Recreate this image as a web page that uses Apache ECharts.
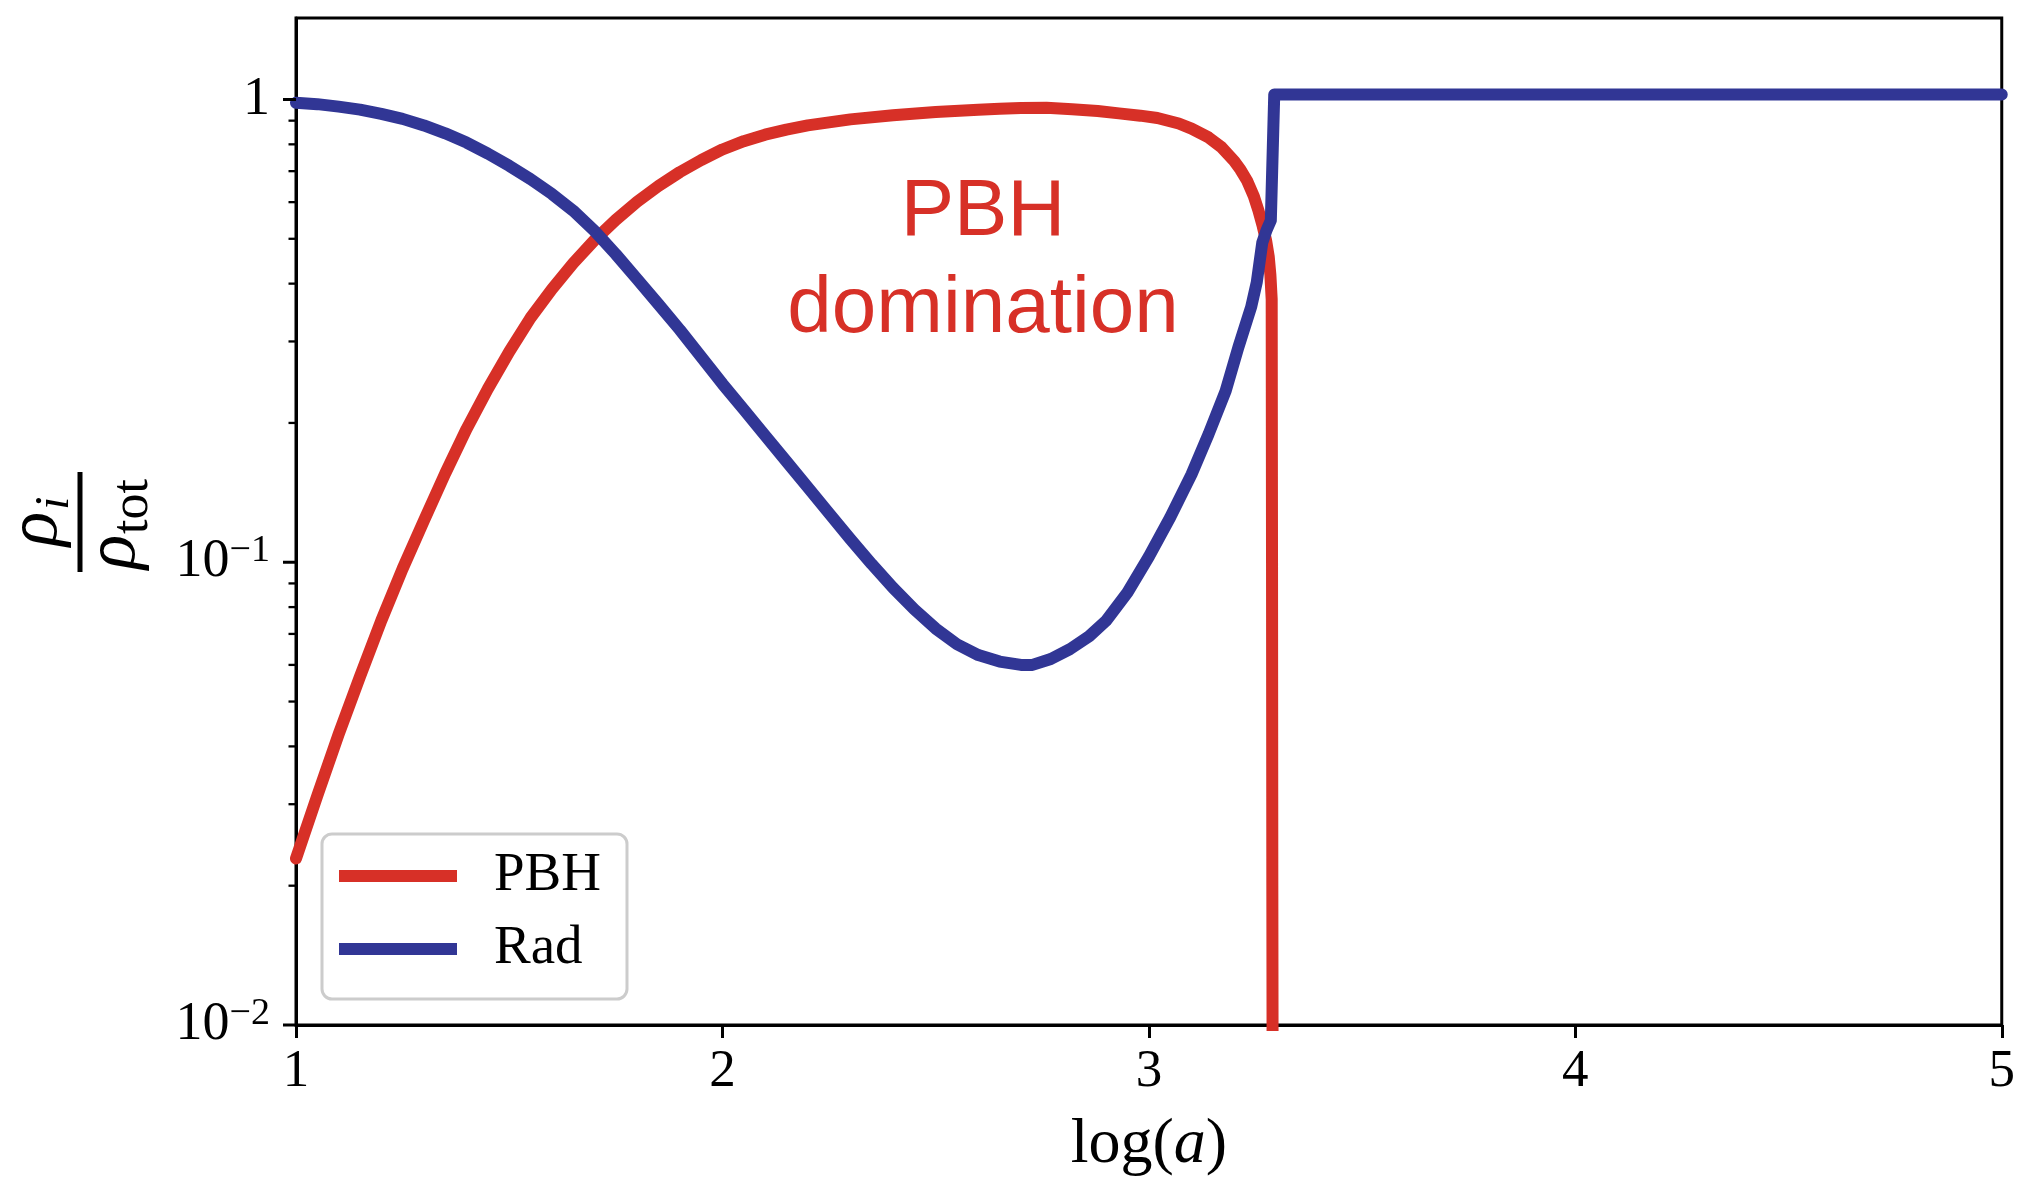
<!DOCTYPE html>
<html>
<head>
<meta charset="utf-8">
<script src="https://cdn.jsdelivr.net/npm/echarts@6/dist/echarts.min.js"></script>
<style>
html,body{margin:0;padding:0;background:#ffffff;}
#chart{width:2018px;height:1183px;}
</style>
</head>
<body>
<div id="chart"></div>
<script>
// ---- data ----
const seriesNames = ['PBH', 'Rad'];

const pbhLogA = [1.00, 1.05, 1.10, 1.15, 1.20, 1.25, 1.30, 1.35, 1.40, 1.45, 1.50, 1.55, 1.60, 1.65, 1.70, 1.75,
  1.80, 1.85, 1.90, 1.95, 2.00, 2.05, 2.10, 2.15, 2.20, 2.30, 2.40, 2.50, 2.60, 2.65, 2.70, 2.76, 2.82, 2.88,
  2.93, 2.98, 3.02, 3.07, 3.10, 3.14, 3.17, 3.20, 3.215, 3.23, 3.246, 3.257, 3.267, 3.275, 3.281, 3.285, 3.288,
  3.2888, 3.2895, 3.2905];
const pbhFrac = [0.0229, 0.0313, 0.0425, 0.0566, 0.0748, 0.0968, 0.1230, 0.1556, 0.1941, 0.2371, 0.2851, 0.3373,
  0.3890, 0.4426, 0.4966, 0.5495, 0.6012, 0.6501, 0.6966, 0.7396, 0.7798, 0.8128, 0.8395, 0.8610, 0.8790, 0.9057,
  0.9247, 0.9397, 0.9506, 0.9550, 0.9590, 0.9594, 0.9528, 0.9441, 0.9333, 0.9226, 0.9120, 0.8872, 0.8650, 0.8279,
  0.7889, 0.7362, 0.7047, 0.6683, 0.6180, 0.5754, 0.5321, 0.4955, 0.4581, 0.4169, 0.3698, 0.100, 0.020, 0.005];

const radLogA = [1.00, 1.05, 1.10, 1.15, 1.20, 1.25, 1.30, 1.35, 1.40, 1.45, 1.50, 1.55, 1.60, 1.65, 1.70, 1.75,
  1.80, 1.85, 1.90, 1.95, 2.00, 2.05, 2.10, 2.15, 2.20, 2.25, 2.30, 2.35, 2.40, 2.45, 2.50, 2.55, 2.60, 2.65,
  2.70, 2.727, 2.77, 2.815, 2.86, 2.90, 2.95, 3.00, 3.05, 3.10, 3.14, 3.18, 3.21, 3.24, 3.253, 3.266, 3.276,
  3.286, 3.294, 3.50, 4.00, 4.50, 5.00];
const radFrac = [0.984, 0.977, 0.965, 0.951, 0.931, 0.908, 0.879, 0.845, 0.807, 0.764, 0.719, 0.673, 0.625, 0.575,
  0.520, 0.463, 0.409, 0.361, 0.318, 0.278, 0.243, 0.2138, 0.1879, 0.1652, 0.1452, 0.1276, 0.1122, 0.0991, 0.0881,
  0.0791, 0.0719, 0.0665, 0.0630, 0.0610, 0.0600, 0.0600, 0.0618, 0.0649, 0.0692, 0.0748, 0.0861, 0.1028, 0.125,
  0.1549, 0.1892, 0.2344, 0.2917, 0.3565, 0.4027, 0.491, 0.522, 0.548, 1.025, 1.025, 1.025, 1.025, 1.025];

const xTickValues = [1, 2, 3, 4, 5];
const yMajorTicks = [0.01, 0.1, 1];
const yMinorTicks = [0.02, 0.03, 0.04, 0.05, 0.06, 0.07, 0.08, 0.09, 0.2, 0.3, 0.4, 0.5, 0.6, 0.7, 0.8, 0.9];
const xRange = [1, 5];
const yRange = [0.01, 1.5];
const annotationText = ['PBH', 'domination'];

// ---- styling ----
const RED = '#d73027';
const BLUE = '#313695';
const SERIF = "'Liberation Serif', 'DejaVu Serif', serif";
const SANS = "'Liberation Sans', Arial, sans-serif";

function pairs(xs, ys) { return xs.map((x, i) => [x, ys[i]]); }

function yLabel(v) {
  const e = Math.log10(v);
  const r = Math.round(e);
  if (Math.abs(e - r) > 1e-6) return '';
  if (r === 0) return '{b|1}';
  return '{b|10}{s|' + (r < 0 ? '\u2212' + (-r) : r) + '}';
}

function tickSeries(values, len, width) {
  return {
    type: 'custom',
    coordinateSystem: 'cartesian2d',
    silent: true,
    clip: false,
    z: 10,
    data: values.map(v => [xRange[0], v]),
    renderItem: function (params, api) {
      const p = api.coord([api.value(0), api.value(1)]);
      return {
        type: 'line',
        shape: { x1: p[0] - len, y1: p[1], x2: p[0], y2: p[1] },
        style: { stroke: '#000', lineWidth: width }
      };
    }
  };
}

const chart = echarts.init(document.getElementById('chart'), null, { renderer: 'canvas' });

const option = {
  animation: false,
  backgroundColor: '#ffffff',
  grid: {
    left: 296, right: 16, top: 18, bottom: 158,
    show: true, borderColor: '#000', borderWidth: 3, backgroundColor: 'transparent'
  },
  xAxis: {
    type: 'value',
    min: xRange[0], max: xRange[1], interval: 1,
    name: '{r|log(}{i|a}{r|)}',
    nameLocation: 'middle',
    nameGap: 88,
    nameTextStyle: {
      rich: {
        r: { fontFamily: SERIF, fontSize: 64, color: '#000', lineHeight: 64 },
        i: { fontFamily: SERIF, fontSize: 64, fontStyle: 'italic', color: '#000', lineHeight: 64 }
      }
    },
    axisLine: { show: true, onZero: false, lineStyle: { color: '#000', width: 3 } },
    axisTick: { show: true, inside: false, length: 13, lineStyle: { color: '#000', width: 3 } },
    splitLine: { show: false },
    axisLabel: {
      margin: 21,
      fontFamily: SERIF, fontSize: 53, color: '#000', lineHeight: 53,
      formatter: function (v) { return xTickValues.indexOf(v) >= 0 ? String(v) : ''; }
    }
  },
  yAxis: {
    type: 'log', logBase: 10,
    min: yRange[0], max: yRange[1],
    axisLine: { show: true, onZero: false, lineStyle: { color: '#000', width: 3 } },
    axisTick: { show: false },
    splitLine: { show: false },
    axisLabel: {
      margin: 26,
      showMaxLabel: false,
      formatter: yLabel,
      fontFamily: SERIF, fontSize: 53, color: '#000',
      rich: {
        b: { fontFamily: SERIF, fontSize: 54, color: '#000', lineHeight: 60 },
        s: { fontFamily: SERIF, fontSize: 38, color: '#000', lineHeight: 38, verticalAlign: 'top' }
      }
    }
  },
  legend: {
    data: seriesNames,
    orient: 'vertical',
    left: 322, top: 834,
    itemWidth: 118, itemHeight: 12, itemGap: 13,
    icon: 'rect',
    padding: [12, 26, 20, 17],
    backgroundColor: 'rgba(255,255,255,0.8)',
    borderColor: '#cccccc', borderWidth: 3, borderRadius: 10,
    textStyle: { fontFamily: SERIF, fontSize: 55, color: '#000', lineHeight: 60, padding: [0, 0, 0, 32] }
  },
  graphic: [
    {
      type: 'text',
      x: 983, y: 261,
      z: 20,
      style: {
        text: annotationText.join('\n'),
        fill: RED,
        fontFamily: SANS, fontSize: 80, lineHeight: 97,
        align: 'center', verticalAlign: 'middle'
      }
    },
    {
      type: 'group',
      x: 80, y: 522,
      rotation: Math.PI / 2,
      children: [
        { type: 'line', shape: { x1: -50, y1: 0, x2: 50, y2: 0 }, style: { stroke: '#000', lineWidth: 5 } },
        { type: 'text', x: -7, y: -43, style: { text: 'ρ', fill: '#000', fontFamily: SERIF, fontStyle: 'italic', fontSize: 72, align: 'center', verticalAlign: 'middle' } },
        { type: 'text', x: 12, y: -25, style: { text: 'i', fill: '#000', fontFamily: SERIF, fontStyle: 'italic', fontSize: 48, align: 'left', verticalAlign: 'middle' } },
        { type: 'text', x: -30, y: 35, style: { text: 'ρ', fill: '#000', fontFamily: SERIF, fontStyle: 'italic', fontSize: 72, align: 'center', verticalAlign: 'middle' } },
        { type: 'text', x: -12, y: 53, style: { text: 'tot', fill: '#000', fontFamily: SERIF, fontSize: 52, align: 'left', verticalAlign: 'middle' } }
      ]
    }
  ],
  series: [
    {
      name: seriesNames[0],
      type: 'line',
      data: pairs(pbhLogA, pbhFrac),
      showSymbol: false, symbol: 'none',
      clip: true,
      z: 2,
      itemStyle: { color: RED },
      lineStyle: { color: RED, width: 12, cap: 'round', join: 'round' }
    },
    {
      name: seriesNames[1],
      type: 'line',
      data: pairs(radLogA, radFrac),
      showSymbol: false, symbol: 'none',
      clip: true,
      z: 3,
      itemStyle: { color: BLUE },
      lineStyle: { color: BLUE, width: 12, cap: 'round', join: 'round' }
    },
    tickSeries(yMajorTicks, 13, 3),
    tickSeries(yMinorTicks, 7.5, 2.3)
  ]
};

chart.setOption(option);
</script>
</body>
</html>
